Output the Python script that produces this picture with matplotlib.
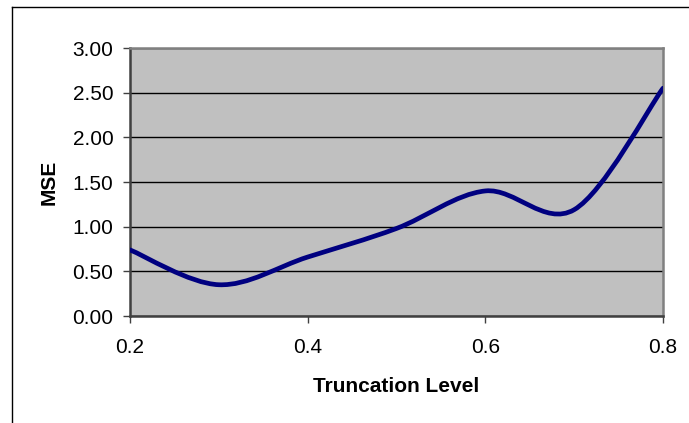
import matplotlib
matplotlib.use('Agg')
import matplotlib.pyplot as plt
from matplotlib.path import Path
from matplotlib.patches import PathPatch
from matplotlib.lines import Line2D

plt.rcParams['font.family'] = ['Liberation Sans', 'DejaVu Sans']

# truncation level vs mean squared error
trunc = [0.2, 0.3, 0.4, 0.5, 0.6, 0.7, 0.8]
mse = [0.74, 0.35, 0.66, 0.98, 1.40, 1.19, 2.55]
x_ticks = [0.2, 0.4, 0.6, 0.8]
y_ticks = [0.0, 0.5, 1.0, 1.5, 2.0, 2.5, 3.0]


def smooth_path(xs, ys):
    # Excel style smoothed line: Catmull-Rom as cubic Bezier segments
    pts = list(zip(xs, ys))
    verts = [pts[0]]
    codes = [Path.MOVETO]
    n = len(pts)
    for i in range(n - 1):
        p0 = pts[i - 1] if i > 0 else pts[i]
        p1 = pts[i]
        p2 = pts[i + 1]
        p3 = pts[i + 2] if i + 2 < n else pts[i + 1]
        c1 = (p1[0] + (p2[0] - p0[0]) / 6, p1[1] + (p2[1] - p0[1]) / 6)
        c2 = (p2[0] - (p3[0] - p1[0]) / 6, p2[1] - (p3[1] - p1[1]) / 6)
        verts += [c1, c2, p2]
        codes += [Path.CURVE4] * 3
    return Path(verts, codes)


fig = plt.figure(figsize=(6.89, 4.23), dpi=100)
ax = fig.add_axes([130 / 689, 1 - 316 / 423, 533 / 689, 268 / 423])
ax.set_facecolor('#C0C0C0')

ax.add_patch(PathPatch(smooth_path(trunc, mse), facecolor='none',
                       edgecolor='#000080', lw=3.4, capstyle='round', zorder=3))

ax.set_xlim(0.2, 0.8)
ax.set_ylim(0, 3)
ax.set_xticks(x_ticks)
ax.set_xticklabels([f'{v:.1f}' for v in x_ticks])
ax.set_yticks(y_ticks)
ax.set_yticklabels([f'{v:.2f}' for v in y_ticks])
ax.grid(axis='y', color='black', lw=1.0)
ax.set_axisbelow(True)

for s in ['top', 'right']:
    ax.spines[s].set_color('#808080')
    ax.spines[s].set_linewidth(1.8)
for s in ['left', 'bottom']:
    ax.spines[s].set_color('#404040')
    ax.spines[s].set_linewidth(1.8)

ax.tick_params(axis='x', length=5, width=1, color='#404040', labelsize=15, pad=11)
ax.tick_params(axis='y', length=5, width=1, color='#404040', labelsize=15, pad=7)

ax.set_xlabel('Truncation Level', fontsize=15, fontweight='bold', labelpad=14)
ax.set_ylabel('MSE', fontsize=15, fontweight='bold', labelpad=10)

# chart frame (only left and top edges visible)
fig.add_artist(Line2D([11.5 / 689, 11.5 / 689], [0, 1 - 7.5 / 423],
                      transform=fig.transFigure, color='black', lw=1))
fig.add_artist(Line2D([11.5 / 689, 1], [1 - 7.5 / 423, 1 - 7.5 / 423],
                      transform=fig.transFigure, color='black', lw=1))

fig.savefig('out.png', dpi=100)
